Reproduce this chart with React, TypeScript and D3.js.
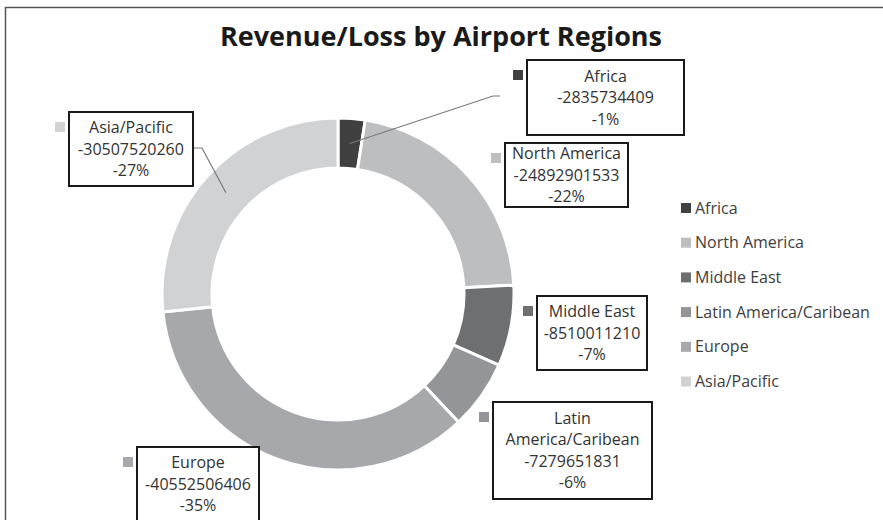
import React from "react";
import * as d3 from "d3";

// chart data
const regions = ["Africa", "North America", "Middle East", "Latin America/Caribean", "Europe", "Asia/Pacific"];
const values = [-2835734409, -24892901533, -8510011210, -7279651831, -40552506406, -30507520260];
const percentLabels = ["-1%", "-22%", "-7%", "-6%", "-35%", "-27%"];
const nameLines = [["Africa"], ["North America"], ["Middle East"], ["Latin", "America/Caribean"], ["Europe"], ["Asia/Pacific"]];
const colors = ["#404040", "#bdbec0", "#6e6f71", "#949598", "#a7a8ab", "#d1d2d4"];

const W = 883;
const H = 520;
const cx = 338;
const cy = 294;
const outerR = 176;
const innerR = 126;
const FONT = "'Open Sans', 'Liberation Sans', sans-serif";
const TEXT = "#333";

// label placement (boxes for the data labels)
const boxes = [
  { x: 527, y: 60, w: 157, h: 75, leader: [[493, 96], [500, 96]] },
  { x: 505, y: 143, w: 123, h: 64, leader: null },
  { x: 537, y: 296, w: 110, h: 74, leader: null },
  { x: 493, y: 402, w: 159, h: 97, leader: null },
  { x: 137, y: 447, w: 122, h: 74, leader: null },
  { x: 69, y: 112, w: 124, h: 74, leader: [[202, 148], [193, 148]] },
];

const fmt = (v: number) => String(v);

export default function App() {
  const pie = d3.pie<number>().sort(null).value((d) => Math.abs(d));
  const arcs = pie(values);
  const arc = d3.arc<d3.PieArcDatum<number>>().innerRadius(innerR).outerRadius(outerR);
  const lineGap = 21.5;

  return (
    <svg width={W} height={H} style={{ position: "absolute", left: 0, top: 0, background: "#fff" }}>
      <rect x={5.5} y={7.5} width={W + 10} height={H + 10} fill="#fff" stroke="#555" strokeWidth={1.5} />
      <text x={441} y={46} textAnchor="middle" fontFamily={FONT} fontWeight="bold" fontSize={27} fill="#1a1a1a">
        Revenue/Loss by Airport Regions
      </text>

      <g transform={`translate(${cx},${cy})`}>
        {arcs.map((a, i) => (
          <path key={i} d={arc(a) || ""} fill={colors[i]} stroke="#fff" strokeWidth={3} strokeLinejoin="miter" />
        ))}
      </g>

      {/* leader lines */}
      {arcs.map((a, i) => {
        const b = boxes[i];
        if (!b.leader) return null;
        const [mx, my] = arc.centroid(a);
        const pts: [number, number][] = [[cx + mx, cy + my], ...(b.leader as [number, number][])];
        return <path key={i} d={d3.line()(pts) || ""} fill="none" stroke="#7a7a7a" strokeWidth={1.2} />;
      })}

      {/* data labels */}
      {regions.map((r, i) => {
        const b = boxes[i];
        const lines = [...nameLines[i], fmt(values[i]), percentLabels[i]];
        const mid = b.y + b.h / 2;
        return (
          <g key={r}>
            <rect x={b.x - 14} y={b.y + 10} width={10} height={10} fill={colors[i]} />
            <rect x={b.x} y={b.y} width={b.w} height={b.h} fill="#fff" stroke="#1a1a1a" strokeWidth={2} />
            {lines.map((t, j) => (
              <text
                key={j}
                x={b.x + b.w / 2}
                y={mid + (j - (lines.length - 1) / 2) * lineGap}
                dy="0.35em"
                textAnchor="middle"
                fontFamily={FONT}
                fontSize={16}
                fill={TEXT}
              >
                {t}
              </text>
            ))}
          </g>
        );
      })}

      {/* legend */}
      {regions.map((r, i) => (
        <g key={r} transform={`translate(681,${208 + i * 34.7})`}>
          <rect x={0} y={-5} width={10} height={10} fill={colors[i]} />
          <text x={14} y={0} dy="0.35em" fontFamily={FONT} fontSize={16} fill="#404040">
            {r}
          </text>
        </g>
      ))}
    </svg>
  );
}
